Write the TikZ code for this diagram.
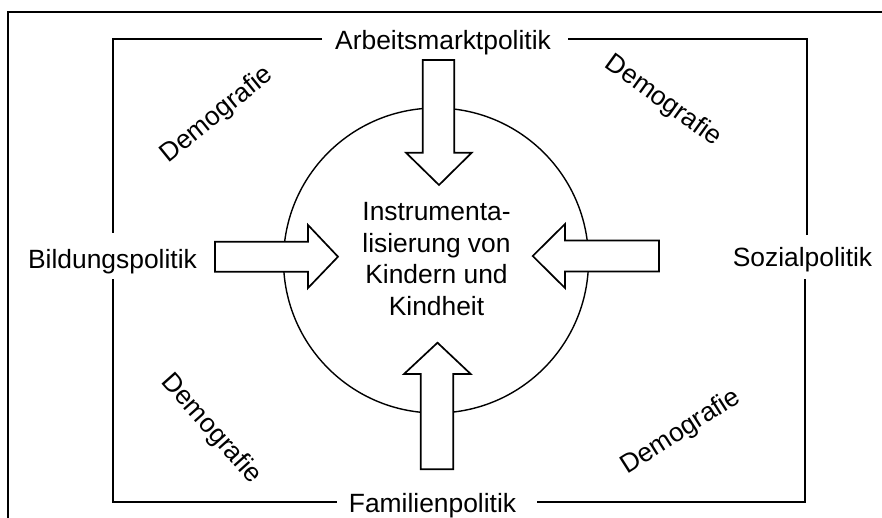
\documentclass[tikz,border=0pt]{standalone}
\usepackage{fontspec}
\setmainfont{Liberation Sans}
\begin{document}
\begin{tikzpicture}[x=1pt,y=-1pt,
  frame/.style={draw=black,line width=1.9pt},
  outerframe/.style={draw=black,line width=2pt},
  ring/.style={draw=black,line width=1.4pt},
  blockarrow/.style={draw=black,fill=white,line width=1.7pt,line join=miter},
  lbl/.style={inner sep=0pt,font=\fontsize{26.4}{31.7}\selectfont},
  demo/.style={inner sep=0pt,font=\fontsize{26.4}{31.7}\selectfont}]
\useasboundingbox (0,0) rectangle (882,517);
% outer frame (only top and left visible)
\draw[outerframe] (8,520) -- (8,12) -- (885,12);
% circle
\node[ring,circle,minimum size=305pt,inner sep=0pt] (circ) at (436,260.5) {};
% labels
\node[lbl,anchor=base] (arb) at (443,49) {Arbeitsmarktpolitik};
\node[lbl,anchor=base] (fam) at (432.5,512.5) {Familienpolitik};
\node[lbl,anchor=base] (bild) at (112.5,268) {Bildungspolitik};
\node[lbl,anchor=base] (soz) at (802.5,266.7) {Sozialpolitik};
% gap end coordinates
\coordinate (arbL) at (322,39);
\coordinate (arbR) at (568,39);
\coordinate (famL) at (337,502);
\coordinate (famR) at (537,502);
\coordinate (bildT) at (113,233);
\coordinate (bildB) at (113,279);
\coordinate (sozT) at (807,235);
\coordinate (sozB) at (805,279);
% inner frame with gaps
\draw[frame] (arbL) -- (113,39) -- (bildT);
\draw[frame] (bildB) -- (113,502) -- (famL);
\draw[frame] (famR) -- (805,502) -- (sozB);
\draw[frame] (sozT) -- (807,39) -- (arbR);
% block arrows
\draw[blockarrow] (422.7,60) -- (454.3,60) -- (454.3,152.7) -- (471.7,152.7) -- (439,185) -- (406,152.7) -- (422.7,152.7) -- cycle;
\draw[blockarrow] (420.7,469.3) -- (453.3,469.3) -- (453.3,374) -- (470.7,374) -- (437.5,342.7) -- (404,374) -- (420.7,374) -- cycle;
\draw[blockarrow] (215,241.7) -- (308,241.7) -- (308,225) -- (338,256.7) -- (308,288) -- (308,271.7) -- (215,271.7) -- cycle;
\draw[blockarrow] (659,240.5) -- (565,240.5) -- (565,224) -- (532.7,256) -- (565,288) -- (565,271.5) -- (659,271.5) -- cycle;
% centre text
\node[lbl,align=center,anchor=north] (inst) at (436.5,202) {Instrumenta-\\lisierung von\\Kindern und\\Kindheit};
% Demografie labels
\node[demo,rotate=39] (d1) at (217,115) {Demografie};
\node[demo,rotate=-35.8] (d2) at (663,101) {Demografie};
\node[demo,rotate=-48.3] (d3) at (211,429) {Demografie};
\node[demo,rotate=32.5] (d4) at (681,432) {Demografie};
\end{tikzpicture}
\end{document}
